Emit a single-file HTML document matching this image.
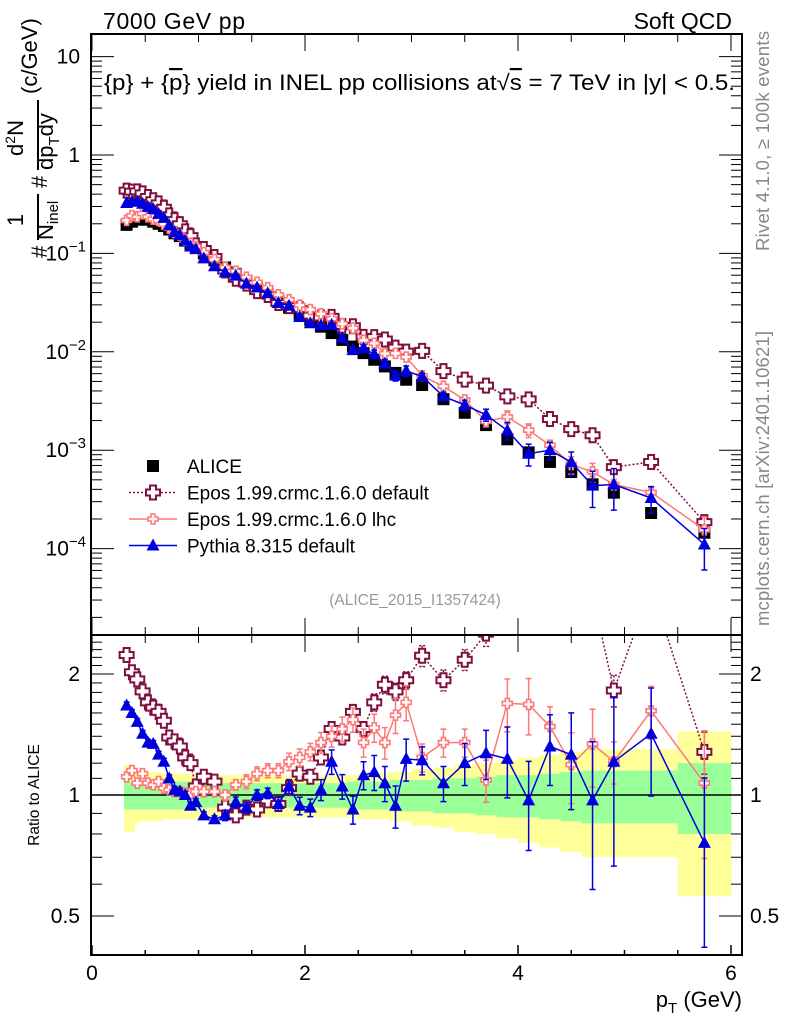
<!DOCTYPE html>
<html><head><meta charset="utf-8"><style>
html,body{margin:0;padding:0;background:#fff;}
svg{display:block;font-family:"Liberation Sans",sans-serif;}
</style></head><body>
<svg id="chart" width="786" height="1024" viewBox="0 0 786 1024" xmlns="http://www.w3.org/2000/svg">
<defs>
<clipPath id="clipMain"><rect x="91" y="34" width="651" height="601"/></clipPath>
<clipPath id="clipRatio"><rect x="91" y="635" width="651" height="320"/></clipPath>
</defs>
<g id="bands" clip-path="url(#clipRatio)"></g>
<g id="ratioMarks" clip-path="url(#clipRatio)"></g>
<g id="mainMarks" clip-path="url(#clipMain)"></g>
<g id="axes"></g>
<text x="103" y="29" font-size="23" textLength="142">7000 GeV pp</text>
<text x="732" y="29" font-size="23" text-anchor="end">Soft QCD</text>
<text x="104" y="90" font-size="22" textLength="631" lengthAdjust="spacingAndGlyphs">{p} + {<tspan text-decoration="overline">p</tspan>} yield in INEL pp collisions at√<tspan text-decoration="overline">s</tspan> =  7 TeV in |y| &lt; 0.5.</text>
<text x="415" y="605" font-size="15.5" fill="#999" text-anchor="middle">(ALICE_2015_I1357424)</text>
<text transform="translate(769,251) rotate(-90)" font-size="18.5" fill="#888" textLength="220">Rivet 4.1.0, ≥ 100k events</text>
<text transform="translate(769,626) rotate(-90)" font-size="18.5" fill="#888" textLength="295">mcplots.cern.ch [arXiv:2401.10621]</text>
<g transform="translate(47,258) rotate(-90)" font-size="22">
<text x="0" y="0">#</text>
<text x="38" y="-24" text-anchor="middle">1</text>
<line x1="18" y1="-9" x2="64" y2="-9" stroke="#000" stroke-width="2"/>
<text x="18" y="6">N<tspan font-size="15" dy="5">inel</tspan></text>
<text x="70" y="0">#</text>
<text x="120" y="-24" text-anchor="middle">d<tspan font-size="14" dy="-8">2</tspan><tspan dy="8">N</tspan></text>
<line x1="88" y1="-9" x2="158" y2="-9" stroke="#000" stroke-width="2"/>
<text x="88" y="6">dp<tspan font-size="15" dy="6">T</tspan><tspan dy="-6">dy</tspan></text>
<text x="164" y="-10">(c/GeV)</text>
</g>
<text transform="translate(39,795) rotate(-90)" font-size="15.5" text-anchor="middle">Ratio to ALICE</text>
<text x="742" y="1007" font-size="22" text-anchor="end">p<tspan font-size="15" dy="6">T</tspan><tspan dy="-6"> (GeV)</tspan></text>
<g id="legend"></g>
</svg>
<script>
const pT=[0.325,0.375,0.425,0.475,0.525,0.575,0.625,0.675,0.725,0.775,0.825,0.875,0.925,0.975,
1.05,1.15,1.25,1.35,1.45,1.55,1.65,1.75,1.85,1.95,2.05,2.15,2.25,2.35,2.45,2.55,2.65,2.75,2.85,2.95,
3.1,3.3,3.5,3.7,3.9,4.1,4.3,4.5,4.7,4.9,5.25,5.75];
const binLo=[0.3,0.35,0.4,0.45,0.5,0.55,0.6,0.65,0.7,0.75,0.8,0.85,0.9,0.95,
1.0,1.1,1.2,1.3,1.4,1.5,1.6,1.7,1.8,1.9,2.0,2.1,2.2,2.3,2.4,2.5,2.6,2.7,2.8,2.9,
3.0,3.2,3.4,3.6,3.8,4.0,4.2,4.4,4.6,4.8,5.0,5.5];
const binHi=[0.35,0.4,0.45,0.5,0.55,0.6,0.65,0.7,0.75,0.8,0.85,0.9,0.95,1.0,
1.1,1.2,1.3,1.4,1.5,1.6,1.7,1.8,1.9,2.0,2.1,2.2,2.3,2.4,2.5,2.6,2.7,2.8,2.9,3.0,
3.2,3.4,3.6,3.8,4.0,4.2,4.4,4.6,4.8,5.0,5.5,6.0];
const alice=[0.195,0.21,0.22,0.225,0.22,0.21,0.20,0.19,0.175,0.16,0.15,0.135,0.125,0.115,
0.10,0.085,0.072,0.062,0.053,0.045,0.039,0.033,0.028,0.024,0.021,0.018,0.0155,0.0132,0.0113,0.0097,0.0083,0.0071,0.0061,0.0052,
0.0046,0.0033,0.0024,0.0018,0.00129,0.00095,0.00076,0.0006,0.00045,0.00037,0.00023,0.000145];
const ratioEposDef=[2.23,2.02,1.94,1.81,1.70,1.65,1.61,1.53,1.39,1.36,1.32,1.24,1.20,1.05,
1.11,1.08,0.93,0.89,0.93,0.92,0.97,0.95,1.04,1.13,1.11,1.24,1.46,1.39,1.61,1.46,1.70,1.88,1.81,1.93,
2.22,1.93,2.17,2.52,2.73,3.46,2.73,2.73,3.15,1.82,3.3,1.28];
const ratioEposLhc=[1.11,1.15,1.07,1.13,1.07,1.06,1.08,1.04,1.03,1.02,1.02,1.01,1.01,1.02,
1.02,1.02,1.0,1.06,1.08,1.13,1.15,1.15,1.21,1.24,1.28,1.35,1.40,1.46,1.54,1.35,1.47,1.35,1.58,1.70,
1.24,1.35,1.35,1.09,1.69,1.68,1.48,1.19,1.34,1.21,1.62,1.07];
const ratioPythia=[1.67,1.60,1.52,1.42,1.35,1.34,1.26,1.21,1.10,1.03,1.02,1.0,0.94,0.96,
0.89,0.87,0.89,0.96,0.93,1.0,1.01,0.95,1.05,0.94,0.93,1.03,1.21,1.05,0.92,1.12,1.14,1.07,0.94,1.23,
1.22,1.07,1.20,1.27,1.23,0.97,1.32,1.26,0.97,1.21,1.42,0.76];
const errEposDef=[0.02,0.02,0.02,0.02,0.02,0.02,0.02,0.02,0.02,0.02,0.02,0.02,0.02,0.02,
0.02,0.02,0.02,0.02,0.02,0.02,0.03,0.03,0.03,0.03,0.03,0.03,0.04,0.04,0.04,0.04,0.05,0.05,0.05,0.05,
0.06,0.06,0.06,0.07,0.07,0.08,0.08,0.08,0.09,0.09,0.1,0.12];
const errEposLhc=[0.02,0.02,0.02,0.02,0.02,0.02,0.02,0.02,0.02,0.02,0.02,0.02,0.02,0.02,
0.03,0.03,0.03,0.03,0.04,0.04,0.04,0.04,0.05,0.05,0.05,0.06,0.06,0.07,0.07,0.08,0.08,0.09,0.1,0.1,
0.08,0.08,0.08,0.12,0.15,0.16,0.12,0.2,0.22,0.12,0.15,0.35];
const errPythia=[0.02,0.02,0.02,0.02,0.02,0.02,0.02,0.02,0.02,0.02,0.02,0.02,0.02,0.02,
0.02,0.02,0.03,0.03,0.03,0.03,0.03,0.04,0.04,0.05,0.05,0.06,0.07,0.07,0.08,0.08,0.1,0.1,0.12,0.12,
0.08,0.1,0.12,0.14,0.2,0.25,0.2,0.27,0.4,0.45,0.3,0.45];
const bandYellow=[0.19,0.19,0.15,0.14,0.14,0.14,0.14,0.13,0.13,0.13,0.13,0.13,0.13,0.13,
0.12,0.12,0.12,0.12,0.12,0.12,0.12,0.12,0.12,0.12,0.12,0.12,0.12,0.12,0.12,0.13,0.13,0.13,0.14,0.14,
0.16,0.17,0.19,0.2,0.22,0.24,0.26,0.28,0.3,0.3,0.3,0.44];
const bandGreen=[0.08,0.08,0.08,0.08,0.08,0.08,0.08,0.08,0.08,0.08,0.08,0.08,0.08,0.08,
0.07,0.07,0.07,0.07,0.07,0.07,0.07,0.07,0.07,0.07,0.07,0.07,0.07,0.07,0.08,0.08,0.08,0.08,0.09,0.09,
0.09,0.1,0.1,0.11,0.12,0.12,0.13,0.14,0.15,0.15,0.15,0.2];
const xTicks=[0,2,4,6];
const yTicksMain=[10,1,0.1,0.01,0.001,0.0001];
const yTickLabelsMain=["10","1","10|−1","10|−2","10|−3","10|−4"];
const ratioTicks=[0.5,1,2];
const ratioTickLabels=["0.5","1","2"];

const NS="http://www.w3.org/2000/svg";
const X0=91,X1=742,YT=34,YM=635,YB=955;
function xs(v){return 92+v*106.5;}
function ym(v){return 155-98.4*Math.log10(v);}
function yr(v){return 795-121*Math.log2(v);}
function mk(tag,attrs,parent){const e=document.createElementNS(NS,tag);for(const k in attrs)e.setAttribute(k,attrs[k]);parent.appendChild(e);return e;}
const gB=document.getElementById('bands'),gR=document.getElementById('ratioMarks'),gM=document.getElementById('mainMarks'),gA=document.getElementById('axes'),gL=document.getElementById('legend');

for(let i=0;i<pT.length;i++){
  const x=xs(binLo[i]),w=xs(binHi[i])-x;
  const r1=mk('rect',{x:x,y:yr(1+bandYellow[i]),width:w+0.5,height:yr(1-bandYellow[i])-yr(1+bandYellow[i]),fill:'#ffff99'},gB);
  
  
  const r2=mk('rect',{x:x,y:yr(1+bandGreen[i]),width:w+0.5,height:yr(1-bandGreen[i])-yr(1+bandGreen[i]),fill:'#99ff99'},gB);
  
  
}
mk('line',{x1:X0,y1:yr(1),x2:X1,y2:yr(1),stroke:'#000','stroke-width':1.5},gB);

function plusPath(cx,cy,s,a){return `M${cx-a},${cy-s}H${cx+a}V${cy-a}H${cx+s}V${cy+a}H${cx+a}V${cy+s}H${cx-a}V${cy+a}H${cx-s}V${cy-a}H${cx-a}Z`;}
function marker(type,cx,cy,g,name){
  let e;
  if(type==='sq') e=mk('rect',{x:cx-6,y:cy-6,width:12,height:12,fill:'#000'},g);
  else if(type==='dark') e=mk('path',{d:plusPath(cx,cy,7,3),fill:'#fff',stroke:'#7f0f3f','stroke-width':2},g);
  else if(type==='pink') e=mk('path',{d:plusPath(cx,cy,5,2),fill:'#fff',stroke:'#ff7777','stroke-width':1.6},g);
  else e=mk('path',{d:`M${cx},${cy-7}L${cx+6.5},${cy+5}L${cx-6.5},${cy+5}Z`,fill:'#0000dd'},g);
  
  
}
function series(vals,errs,yfun,g,type,color,dash,name,width){
  let d='';
  for(let i=0;i<pT.length;i++){d+=(i?'L':'M')+xs(pT[i]).toFixed(1)+','+yfun(vals[i]).toFixed(1);}
  const p=mk('path',{d:d,fill:'none',stroke:color,'stroke-width':width,'stroke-dasharray':dash},g);
  
  
  for(let i=0;i<pT.length;i++){
    const x=xs(pT[i]),e=errs[i];
    const ya=yfun(vals[i]*(1+e)),yb=yfun(vals[i]*(1-e));
    if(yb-ya>6){
      const eb=mk('path',{d:`M${x},${ya}V${yb}M${x-3},${ya}H${x+3}M${x-3},${yb}H${x+3}`,stroke:color,'stroke-width':1.5,fill:'none','stroke-dasharray':dash},g);
      
      
    }
  }
  for(let i=0;i<pT.length;i++) marker(type,xs(pT[i]),yfun(vals[i]),g,name+'-point');
}
const eposDef=alice.map((v,i)=>v*ratioEposDef[i]);
const eposLhc=alice.map((v,i)=>v*ratioEposLhc[i]);
const pythia=alice.map((v,i)=>v*ratioPythia[i]);
for(let i=0;i<pT.length;i++) marker('sq',xs(pT[i]),ym(alice[i]),gM,'alice-point');
series(eposDef,errEposDef,ym,gM,'dark','#7f0f3f','2,2','epos-default',1.5);
series(eposLhc,errEposLhc,ym,gM,'pink','#ff7777','none','epos-lhc',1.5);
series(pythia,errPythia,ym,gM,'tri','#0000dd','none','pythia',1.5);
series(ratioEposDef,errEposDef,yr,gR,'dark','#7f0f3f','2,2','epos-default-ratio',1.5);
series(ratioEposLhc,errEposLhc,yr,gR,'pink','#ff7777','none','epos-lhc-ratio',1.5);
series(ratioPythia,errPythia,yr,gR,'tri','#0000dd','none','pythia-ratio',1.5);

mk('rect',{x:X0,y:YT,width:X1-X0,height:YM-YT,fill:'none',stroke:'#000','stroke-width':2},gA);
mk('rect',{x:X0,y:YM,width:X1-X0,height:YB-YM,fill:'none',stroke:'#000','stroke-width':2},gA);
for(let v=0;v<=6.01;v+=0.5){
  const x=xs(v),maj=Math.abs(v-Math.round(v/2)*2)<0.01,l=maj?17:8,lb=maj?10:5;
  mk('line',{x1:x,y1:YT,x2:x,y2:YT+l,stroke:'#000','stroke-width':1},gA);
  mk('line',{x1:x,y1:YM,x2:x,y2:YM-l,stroke:'#000','stroke-width':1},gA);
  mk('line',{x1:x,y1:YM,x2:x,y2:YM+l,stroke:'#000','stroke-width':1},gA);
  mk('line',{x1:x,y1:YB,x2:x,y2:YB-lb,stroke:'#000','stroke-width':1.5},gA);
}
xTicks.forEach(v=>{const t=mk('text',{x:xs(v),y:980,'font-size':21,'text-anchor':'middle'},gA);t.textContent=v;
  
  });
for(let d=-5;d<=1;d++){for(let m=1;m<10;m++){const v=m*Math.pow(10,d),y=ym(v);if(y<YT||y>YM)continue;const l=m===1?23:11;
  mk('line',{x1:X0,y1:y,x2:X0+l,y2:y,stroke:'#000','stroke-width':1},gA);
  mk('line',{x1:X1,y1:y,x2:X1-l,y2:y,stroke:'#000','stroke-width':1},gA);}}
yTicksMain.forEach((v,i)=>{const parts=yTickLabelsMain[i].split('|');const t=mk('text',{x:80,y:ym(v)+7,'font-size':21,'text-anchor':'end'},gA);
  
  
  if(parts.length===1)t.textContent=parts[0];else{t.textContent=parts[0];const s=mk('tspan',{'font-size':15,dy:-9},t);s.textContent=parts[1];t.setAttribute('x',86);}});
for(let k=3;k<=25;k++){const v=k/10,y=yr(v);if(y<YM||y>YB)continue;const maj=(k===5||k===10||k===20),l=maj?23:11;
  mk('line',{x1:X0,y1:y,x2:X0+l,y2:y,stroke:'#000','stroke-width':1},gA);
  mk('line',{x1:X1,y1:y,x2:X1-l,y2:y,stroke:'#000','stroke-width':1},gA);}
ratioTicks.forEach((v,i)=>{const t=mk('text',{x:80,y:yr(v)+7,'font-size':21,'text-anchor':'end'},gA);t.textContent=ratioTickLabels[i];
  
  
  const t2=mk('text',{x:750,y:yr(v)+7,'font-size':21},gA);t2.textContent=ratioTickLabels[i];
  
  });
const legNames=['ALICE','Epos 1.99.crmc.1.6.0 default','Epos 1.99.crmc.1.6.0 lhc','Pythia 8.315 default'];
const legTypes=['sq','dark','pink','tri'];
const legColors=['#000','#7f0f3f','#ff7777','#0000dd'];
const legDash=['none','2,2','none','none'];
legNames.forEach((n,i)=>{const y=466+i*26.5;
  if(i>0){const ln=mk('line',{x1:129,y1:y,x2:177,y2:y,stroke:legColors[i],'stroke-width':1.5,'stroke-dasharray':legDash[i]},gL);
    
    }
  marker(legTypes[i],153,y,gL,'legend-marker');
  const t=mk('text',{x:187,y:y+7,'font-size':19},gL);t.textContent=n;
  
  });
</script>
</body></html>
